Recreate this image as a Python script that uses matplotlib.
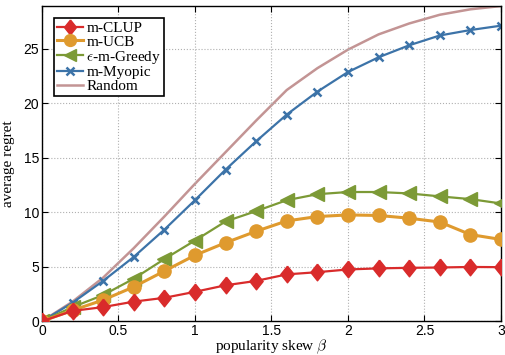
import matplotlib
matplotlib.use("Agg")
import matplotlib.pyplot as plt

beta = [0.0, 0.2, 0.4, 0.6, 0.8, 1.0, 1.2, 1.4, 1.6, 1.8, 2.0, 2.2, 2.4, 2.6, 2.8, 3.0]
clup = [0.0, 0.95, 1.3, 1.8, 2.15, 2.7, 3.3, 3.7, 4.3, 4.5, 4.75, 4.85, 4.9, 4.93, 4.98, 4.96]
ucb = [0.0, 1.0, 1.95, 3.15, 4.6, 6.05, 7.2, 8.25, 9.2, 9.6, 9.75, 9.7, 9.45, 9.1, 7.95, 7.5]
greedy = [0.0, 1.3, 2.4, 3.9, 5.7, 7.4, 9.15, 10.1, 11.1, 11.65, 11.85, 11.85, 11.72, 11.45, 11.2, 10.8]
myopic = [0.0, 1.7, 3.7, 5.9, 8.4, 11.1, 13.9, 16.5, 18.95, 21.05, 22.85, 24.2, 25.3, 26.2, 26.7, 27.1]
rand = [0.0, 1.8, 4.0, 6.7, 9.6, 12.6, 15.5, 18.4, 21.2, 23.2, 24.9, 26.3, 27.3, 28.1, 28.6, 28.9]

labels = ['m-CLUP', 'm-UCB', r'$\epsilon$-m-Greedy', 'm-Myopic', 'Random']

serif = ['Liberation Serif', 'DejaVu Serif']
plt.rcParams['mathtext.fontset'] = 'cm'

# matlab style diamond, a bit taller than wide
diamond = [(0, 1), (0.8, 0), (0, -1), (-0.8, 0), (0, 1)]

fig = plt.figure(figsize=(5.05, 3.55), dpi=100)
ax = fig.add_axes([0.083, 0.095, 0.909, 0.888])

ax.plot(beta, clup, color='#D92B2B', lw=1.6, marker=diamond, ms=12, label=labels[0], zorder=5)
ax.plot(beta, ucb, color='#DF9A2E', lw=2.2, marker='o', ms=9.5, label=labels[1], zorder=4)
ax.plot(beta, greedy, color='#7C9A36', lw=1.6, marker='<', ms=10, label=labels[2], zorder=3)
ax.plot(beta, myopic, color='#3C73A8', lw=1.6, marker='x', ms=6, mew=1.8, label=labels[3], zorder=2)
ax.plot(beta, rand, color='#C39494', lw=1.8, label=labels[4], zorder=1)

ax.set_xlim(0, 3)
ax.set_ylim(0, 28.9)
ax.set_xticks([0, 0.5, 1, 1.5, 2, 2.5, 3])
ax.set_xticklabels(['0', '0.5', '1', '1.5', '2', '2.5', '3'])
ax.set_yticks([0, 5, 10, 15, 20, 25])
ax.tick_params(direction='in', top=True, right=True, labelsize=10, length=4, pad=2)
for lab in ax.get_xticklabels() + ax.get_yticklabels():
    lab.set_family(['Liberation Sans', 'DejaVu Sans'])
ax.grid(True, linestyle=':', color='#b0b0b0', lw=0.8)
for s in ax.spines.values():
    s.set_linewidth(1.0)

ax.set_xlabel(r'popularity skew $\beta$', family=serif, fontsize=11, labelpad=0)
ax.set_ylabel('average regret', family=serif, fontsize=11, labelpad=6)

leg = ax.legend(loc='upper left', prop={'family': serif, 'size': 11}, fancybox=False,
                framealpha=1, edgecolor='black', handlelength=1.7, handletextpad=0.2,
                labelspacing=0.0, borderpad=0.2, borderaxespad=0.8, markerscale=0.9)
leg.get_frame().set_linewidth(1.2)

fig.savefig('out.png', dpi=100)
